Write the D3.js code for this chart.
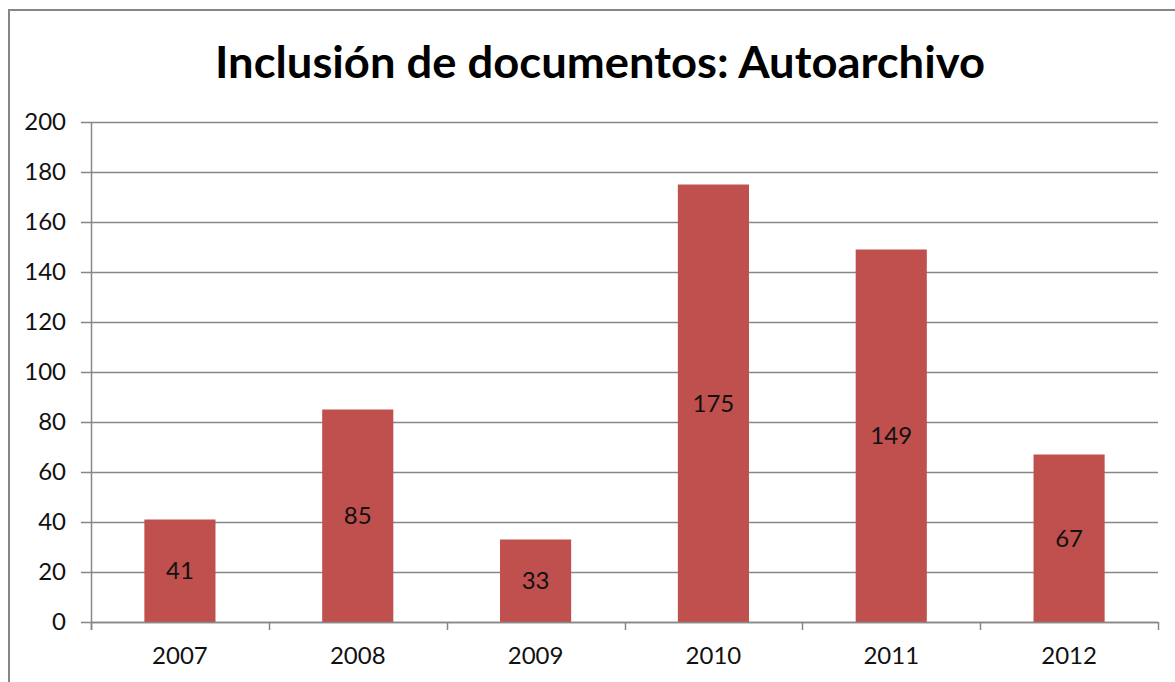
<!DOCTYPE html>
<html>
<head>
<meta charset="utf-8">
<script src="https://cdn.jsdelivr.net/npm/d3@7"></script>
<style>
  body { margin: 0; background: #fff; }
  text { font-family: Lato, "Open Sans", sans-serif; }
</style>
</head>
<body>
<div id="chart"></div>
<script>
// data
var years = ["2007", "2008", "2009", "2010", "2011", "2012"];
var docs = [41, 85, 33, 175, 149, 67];
var yTicks = [0, 20, 40, 60, 80, 100, 120, 140, 160, 180, 200];
var chartTitle = "Inclusión de documentos: Autoarchivo";

var W = 1175, H = 682;
var margin = {top: 122, right: 17, bottom: 60, left: 91};

var svg = d3.select("#chart").append("svg")
  .attr("width", W)
  .attr("height", H);

// outer frame, runs off the right and bottom edges
svg.append("rect")
  .attr("x", 9).attr("y", 10)
  .attr("width", W + 20).attr("height", H + 20)
  .attr("fill", "none")
  .attr("stroke", "#868686")
  .attr("stroke-width", 2);

var x = d3.scaleBand()
  .domain(years)
  .range([margin.left, W - margin.right])
  .paddingInner(0.6)
  .paddingOuter(0.3);

var y = d3.scaleLinear()
  .domain([0, 200])
  .range([H - margin.bottom, margin.top]);

// gridlines
svg.append("g")
  .selectAll("line")
  .data(yTicks)
  .join("line")
  .attr("x1", margin.left - 10)
  .attr("x2", W - margin.right)
  .attr("y1", function(d){ return Math.round(y(d)) + 0.5; })
  .attr("y2", function(d){ return Math.round(y(d)) + 0.5; })
  .attr("stroke", "#878787")
  .attr("stroke-width", 1.5);

// y labels
svg.append("g")
  .selectAll("text")
  .data(yTicks)
  .join("text")
  .attr("x", 66)
  .attr("y", function(d){ return y(d); })
  .attr("dy", "0.35em")
  .attr("text-anchor", "end")
  .attr("font-size", 24)
  .attr("fill", "#111")
  .text(function(d){ return d; });

// y axis line
svg.append("line")
  .attr("x1", margin.left + 0.5).attr("x2", margin.left + 0.5)
  .attr("y1", y(200)).attr("y2", y(0) + 8)
  .attr("stroke", "#878787")
  .attr("stroke-width", 1.5);

// x tick marks at band edges
var step = x.step();
var edges = d3.range(years.length + 1).map(function(i){ return margin.left + i * step; });
svg.append("g")
  .selectAll("line")
  .data(edges)
  .join("line")
  .attr("x1", function(d){ return Math.round(d) + 0.5; })
  .attr("x2", function(d){ return Math.round(d) + 0.5; })
  .attr("y1", y(0))
  .attr("y2", y(0) + 8)
  .attr("stroke", "#878787")
  .attr("stroke-width", 1.5);

// bars
svg.append("g")
  .selectAll("rect")
  .data(docs)
  .join("rect")
  .attr("x", function(d, i){ return x(years[i]); })
  .attr("y", function(d){ return y(d); })
  .attr("width", x.bandwidth())
  .attr("height", function(d){ return y(0) - y(d); })
  .attr("fill", "#C0504D");

// x axis baseline over bars
svg.append("line")
  .attr("x1", margin.left).attr("x2", W - margin.right)
  .attr("y1", Math.round(y(0)) + 0.5).attr("y2", Math.round(y(0)) + 0.5)
  .attr("stroke", "#878787")
  .attr("stroke-width", 1.5);

// value labels, centred in bars
svg.append("g")
  .selectAll("text")
  .data(docs)
  .join("text")
  .attr("x", function(d, i){ return x(years[i]) + x.bandwidth() / 2; })
  .attr("y", function(d){ return (y(d) + y(0)) / 2; })
  .attr("dy", "0.35em")
  .attr("text-anchor", "middle")
  .attr("font-size", 24)
  .attr("fill", "#111")
  .text(function(d){ return d; });

// category labels
svg.append("g")
  .selectAll("text")
  .data(years)
  .join("text")
  .attr("x", function(d){ return x(d) + x.bandwidth() / 2; })
  .attr("y", 664)
  .attr("text-anchor", "middle")
  .attr("font-size", 24)
  .attr("fill", "#111")
  .text(function(d){ return d; });

// title, fitted to the width seen in the picture
svg.append("text")
  .attr("x", 600)
  .attr("y", 78)
  .attr("text-anchor", "middle")
  .attr("font-size", 43)
  .attr("font-weight", "bold")
  .attr("fill", "#000")
  .attr("textLength", 770)
  .attr("lengthAdjust", "spacingAndGlyphs")
  .text(chartTitle);
</script>
</body>
</html>
